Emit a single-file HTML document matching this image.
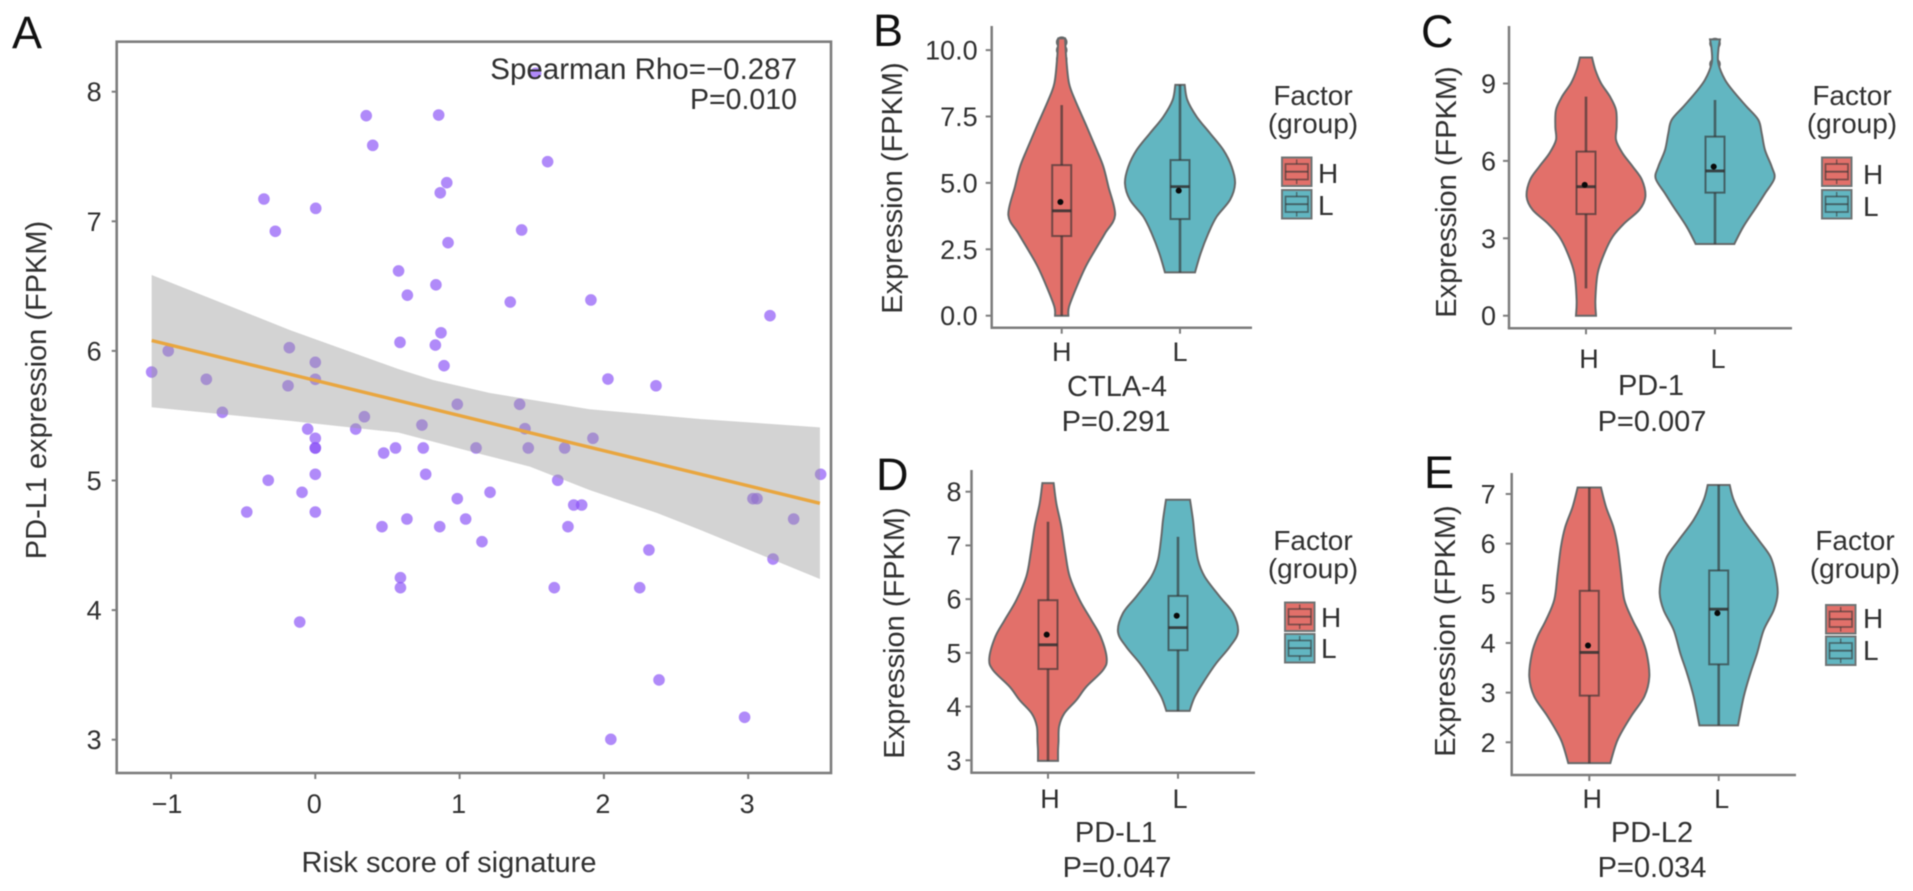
<!DOCTYPE html>
<html lang="en">
<head>
<meta charset="utf-8">
<title>Risk score signature and immune checkpoint expression</title>
<style>
html,body{margin:0;padding:0;background:#fff;width:1913px;height:891px;overflow:hidden}
svg{position:absolute;left:0;top:0;display:block;filter:blur(0.5px)}
text{font-family:"Liberation Sans",Arial,sans-serif;fill:#303030}
.letter{font-size:45px;fill:#111}
.tick{font-size:27px}
.title{font-size:29px}
.legend{font-size:28px}
</style>
</head>
<body>
<svg id="figure" xmlns="http://www.w3.org/2000/svg" width="1913" height="891" viewBox="0 0 1913 891">
  <rect width="1913" height="891" fill="#fff"/>
  <g id="panel-a"></g>
  <g id="panel-b"></g>
  <g id="panel-c"></g>
  <g id="panel-d"></g>
  <g id="panel-e"></g>

  <text class="letter" x="12" y="48">A</text>
  <text class="letter" x="873" y="46">B</text>
  <text class="letter" x="1421" y="47">C</text>
  <text class="letter" x="876" y="490">D</text>
  <text class="letter" x="1424" y="488">E</text>

  <text x="797" y="79" text-anchor="end" font-size="29.5">Spearman Rho=−0.287</text>
  <text x="797" y="109" text-anchor="end" font-size="28.5">P=0.010</text>
  <text class="title" transform="translate(46 390) rotate(-90)" text-anchor="middle">PD-L1 expression (FPKM)</text>
  <text class="title" x="449" y="872" text-anchor="middle">Risk score of signature</text>

  <text class="title" transform="translate(902 188) rotate(-90)" text-anchor="middle">Expression (FPKM)</text>
  <text class="title" x="1117" y="396" text-anchor="middle" font-size="29">CTLA-4</text>
  <text class="title" x="1116" y="431" text-anchor="middle" font-size="28">P=0.291</text>

  <text class="title" transform="translate(1456 192) rotate(-90)" text-anchor="middle">Expression (FPKM)</text>
  <text class="title" x="1651" y="395" text-anchor="middle" font-size="29">PD-1</text>
  <text class="title" x="1652" y="431" text-anchor="middle" font-size="28">P=0.007</text>

  <text class="title" transform="translate(904 633) rotate(-90)" text-anchor="middle">Expression (FPKM)</text>
  <text class="title" x="1116" y="842" text-anchor="middle" font-size="29">PD-L1</text>
  <text class="title" x="1117" y="877" text-anchor="middle" font-size="28">P=0.047</text>

  <text class="title" transform="translate(1455 631) rotate(-90)" text-anchor="middle">Expression (FPKM)</text>
  <text class="title" x="1652" y="842" text-anchor="middle" font-size="29">PD-L2</text>
  <text class="title" x="1652" y="877" text-anchor="middle" font-size="28">P=0.034</text>
</svg>

<script>
/* ---------- Panel A data ---------- */
var scatterX = [0.353,0.398,-0.356,0.003,-0.277,0.577,0.855,1.527,1.61,0.911,0.866,1.43,0.92,0.836,0.638,1.351,1.91,0.871,0.587,0.832,-1.019,-0.18,-1.134,-0.755,0,-0.189,0,-0.644,0.34,-0.053,0.28,0,0,0,0.474,0.556,0,-0.326,-0.092,-0.475,0,0.462,0.59,0.59,-0.108,0.892,2.028,2.361,0.984,1.416,0.739,1.453,1.924,0.748,1.114,1.476,1.728,0.765,1.68,1.211,0.984,1.791,1.846,0.635,1.042,0.862,1.751,1.155,2.312,1.656,2.248,3.502,3.033,3.061,3.315,3.172,3.151,2.382,2.975,2.048];
var scatterY = [7.815,7.586,7.172,7.1,6.923,6.617,7.82,8.142,7.46,7.298,7.22,6.933,6.835,6.51,6.43,6.377,6.393,6.14,6.066,6.045,6.0,6.025,5.837,5.781,5.912,5.731,5.781,5.526,5.492,5.397,5.397,5.326,5.251,5.251,5.212,5.251,5.048,5.002,4.909,4.757,4.757,4.644,4.25,4.173,3.908,5.886,5.783,5.731,5.588,5.588,5.428,5.4,5.326,5.251,5.251,5.251,5.251,5.048,5.002,4.909,4.86,4.811,4.811,4.703,4.703,4.644,4.644,4.528,4.464,4.173,4.173,5.048,4.86,4.86,4.703,4.394,6.272,3.461,3.173,3.003];
var fitX = [-1.134,3.497];
var fitY = [6.08,4.824];
var ribbonUpperX = [-1.134,-0.175,0.575,0.816,1.21,1.9,2.665,3.497];
var ribbonUpperY = [6.586,6.16,5.86,5.775,5.675,5.55,5.475,5.41];
var ribbonLowerX = [-1.134,-0.175,0.575,1.09,1.487,1.9,2.366,2.665,3.497];
var ribbonLowerY = [5.565,5.46,5.37,5.22,5.107,4.927,4.75,4.62,4.24];
var scatterXTicks = [-1,0,1,2,3];
var scatterXTickLabels = ["−1","0","1","2","3"];
var scatterYTicks = [3,4,5,6,7,8];
var scatterYTickLabels = ["3","4","5","6","7","8"];

/* ---------- Violin categories ---------- */
var categories = ["H","L"];

/* ---------- CTLA-4 ---------- */
var ctlaTicks = [0,2.5,5,7.5,10];
var ctlaTickLabels = ["0.0","2.5","5.0","7.5","10.0"];
var ctlaHValues = [10.44,9.63,8.75,8.12,7.12,6.24,5.61,4.86,3.79,3.1,2.47,1.85,1.09,0.34,0];
var ctlaHDensity = [0.056,0.078,0.122,0.222,0.417,0.583,0.694,0.778,0.889,0.722,0.556,0.4,0.25,0.122,0.111];
var ctlaHBox = [0,3,3.95,5.67,7.93];
var ctlaHMean = [4.28];
var ctlaHOutliers = [10.3,10.0,9.65];
var ctlaLValues = [8.69,8.12,7.49,6.87,6.24,5.61,4.98,4.36,3.73,3.1,2.35,1.63];
var ctlaLDensity = [0.078,0.122,0.278,0.5,0.722,0.861,0.917,0.833,0.611,0.472,0.344,0.25];
var ctlaLBox = [1.63,3.64,4.86,5.86,8.69];
var ctlaLMean = [4.71];
var ctlaLOutliers = [];

/* ---------- PD-1 ---------- */
var pd1Ticks = [0,3,6,9];
var pd1TickLabels = ["0","3","6","9"];
var pd1HValues = [10.01,9.52,9.01,8.49,7.97,7.33,6.81,6.29,5.78,5.26,4.61,4.1,3.58,3.06,2.42,1.64,0.61,0];
var pd1HDensity = [0.1,0.156,0.25,0.4,0.5,0.511,0.5,0.611,0.778,0.933,0.989,0.889,0.639,0.444,0.306,0.194,0.156,0.167];
var pd1HBox = [1.06,3.94,5.0,6.36,8.49];
var pd1HMean = [5.07];
var pd1HOutliers = [];
var pd1LValues = [10.71,10.3,9.78,9.14,8.62,8.1,7.59,7.07,6.42,5.78,5.32,4.74,4.23,3.45,2.78];
var pd1LDensity = [0.083,0.056,0.056,0.167,0.333,0.528,0.722,0.778,0.833,0.944,0.989,0.833,0.694,0.472,0.322];
var pd1LBox = [2.78,4.77,5.61,6.94,8.36];
var pd1LMean = [5.78];
var pd1LOutliers = [10.55,9.75];

/* ---------- PD-L1 ---------- */
var pdl1Ticks = [3,4,5,6,7,8];
var pdl1TickLabels = ["3","4","5","6","7","8"];
var pdl1HValues = [8.16,7.78,7.35,6.85,6.42,5.98,5.61,5.3,4.9,4.68,4.37,4.12,3.87,3.63,3.35,3.19,2.99];
var pdl1HDensity = [0.094,0.139,0.222,0.289,0.361,0.528,0.722,0.878,0.978,0.917,0.639,0.472,0.27,0.185,0.175,0.167,0.167];
var pdl1HBox = [2.99,4.7,5.15,5.98,7.44];
var pdl1HMean = [5.34];
var pdl1HOutliers = [3.35];
var pdl1LValues = [7.85,7.47,7.16,6.73,6.42,6.05,5.74,5.39,5.11,4.81,4.49,4.18,3.92];
var pdl1LDensity = [0.2,0.25,0.278,0.333,0.444,0.694,0.917,1,0.861,0.639,0.444,0.278,0.194];
var pdl1LBox = [3.92,5.05,5.47,6.06,7.16];
var pdl1LMean = [5.69];
var pdl1LOutliers = [];

/* ---------- PD-L2 ---------- */
var pdl2Ticks = [2,3,4,5,6,7];
var pdl2TickLabels = ["2","3","4","5","6","7"];
var pdl2HValues = [7.13,6.74,6.34,5.94,5.4,4.87,4.46,4.13,3.79,3.32,2.92,2.52,2.05,1.58];
var pdl2HDensity = [0.194,0.278,0.4,0.472,0.528,0.583,0.722,0.861,0.956,1,0.917,0.694,0.472,0.35];
var pdl2HBox = [1.58,2.94,3.81,5.05,7.13];
var pdl2HMean = [3.95];
var pdl2HOutliers = [];
var pdl2LValues = [7.18,6.88,6.48,6.07,5.74,5.4,5.0,4.66,4.26,3.79,3.39,2.92,2.34];
var pdl2LDensity = [0.183,0.25,0.417,0.667,0.861,0.944,0.983,0.917,0.75,0.639,0.528,0.417,0.322];
var pdl2LBox = [2.34,3.57,4.68,5.46,7.18];
var pdl2LMean = [4.6];
var pdl2LOutliers = [];

/* ---------- Helpers ---------- */
var SVG_NS = "http://www.w3.org/2000/svg";
var AXIS_COLOR = "#7d7d7d";
var H_FILL = "#e2706a";
var L_FILL = "#62b6c1";
var OUTLINE = "#66696a";
var MAX_HALF_WIDTH = 60;

function make(tag, attrs, parent) {
  var el = document.createElementNS(SVG_NS, tag);
  for (var k in attrs) { el.setAttribute(k, attrs[k]); }
  parent.appendChild(el);
  return el;
}
function named(el, name) {
  
  
  return el;
}
function addText(parent, name, str, x, y, cls, anchor) {
  var t = make("text", {x: x, y: y, "class": cls, "text-anchor": anchor}, parent);
  t.textContent = str;
  return named(t, name);
}

/* ---------- Panel A ---------- */
(function () {
  var g = document.getElementById("panel-a");
  function sx(v) { return 315.3 + 144.3 * v; }
  function sy(v) { return 91.7 + (8 - v) * 129.6; }
  var left = 116.7, right = 831, top = 41.7, bottom = 773;

  for (var i = 0; i < scatterX.length; i++) {
    named(make("circle", {cx: sx(scatterX[i]), cy: sy(scatterY[i]), r: 5.8, fill: "#8a52f6", "fill-opacity": 0.68}, g), "scatter-point");
  }

  var d = "";
  for (var u = 0; u < ribbonUpperX.length; u++) {
    d += (u ? "L" : "M") + sx(ribbonUpperX[u]) + " " + sy(ribbonUpperY[u]);
  }
  for (var l = ribbonLowerX.length - 1; l >= 0; l--) {
    d += "L" + sx(ribbonLowerX[l]) + " " + sy(ribbonLowerY[l]);
  }
  named(make("path", {d: d + "Z", fill: "#9a9a9a", "fill-opacity": 0.43}, g), "confidence-band");

  named(make("line", {x1: sx(fitX[0]), y1: sy(fitY[0]), x2: sx(fitX[1]), y2: sy(fitY[1]), stroke: "#e9a63f", "stroke-width": 3.4}, g), "regression-line");

  named(make("rect", {x: left, y: top, width: right - left, height: bottom - top, fill: "none", stroke: AXIS_COLOR, "stroke-width": 2.6}, g), "plot-frame");

  scatterYTicks.forEach(function (v, i) {
    named(make("line", {x1: left - 5, x2: left, y1: sy(v), y2: sy(v), stroke: AXIS_COLOR, "stroke-width": 2}, g), "y-tick");
    addText(g, "y-tick-label", scatterYTickLabels[i], left - 15, sy(v) + 9.5, "tick", "end");
  });
  scatterXTicks.forEach(function (v, i) {
    named(make("line", {x1: sx(v), x2: sx(v), y1: bottom, y2: bottom + 6, stroke: AXIS_COLOR, "stroke-width": 2}, g), "x-tick");
    addText(g, "x-tick-label", scatterXTickLabels[i], sx(v) - (v < 0 ? 4 : 1), 813, "tick", "middle");
  });
})();

/* ---------- Violin panels ---------- */
function smoothSide(pts) {
  var d = "";
  for (var i = 0; i < pts.length - 1; i++) {
    var p0 = pts[Math.max(i - 1, 0)], p1 = pts[i], p2 = pts[i + 1], p3 = pts[Math.min(i + 2, pts.length - 1)];
    d += "C" + (p1[0] + (p2[0] - p0[0]) / 6) + " " + (p1[1] + (p2[1] - p0[1]) / 6) + " " +
         (p2[0] - (p3[0] - p1[0]) / 6) + " " + (p2[1] - (p3[1] - p1[1]) / 6) + " " + p2[0] + " " + p2[1];
  }
  return d;
}

function drawViolin(g, label, cx, sy, values, density, box, mean, outliers, fill) {
  outliers.forEach(function (v) {
    named(make("circle", {cx: cx, cy: sy(v), r: 5, fill: fill, stroke: OUTLINE, "stroke-width": 1.6}, g), "outlier-" + label);
  });

  var right = values.map(function (v, i) { return [cx + density[i] * MAX_HALF_WIDTH, sy(v)]; });
  var left = values.map(function (v, i) { return [cx - density[i] * MAX_HALF_WIDTH, sy(v)]; }).reverse();
  var d = "M" + left[left.length - 1][0] + " " + left[left.length - 1][1] +
          "L" + right[0][0] + " " + right[0][1] + smoothSide(right) +
          "L" + left[0][0] + " " + left[0][1] + smoothSide(left) + "Z";
  named(make("path", {d: d, fill: fill, stroke: OUTLINE, "stroke-width": 2}, g), "violin-" + label);

  var ink = "#2f2f2f";
  var hw = 9.5;
  named(make("line", {x1: cx, x2: cx, y1: sy(box[4]), y2: sy(box[3]), stroke: ink, "stroke-opacity": 0.62, "stroke-width": 2.6}, g), "whisker-upper-" + label);
  named(make("line", {x1: cx, x2: cx, y1: sy(box[1]), y2: sy(box[0]), stroke: ink, "stroke-opacity": 0.62, "stroke-width": 2.6}, g), "whisker-lower-" + label);
  named(make("rect", {x: cx - hw, y: sy(box[3]), width: hw * 2, height: sy(box[1]) - sy(box[3]), fill: "none", stroke: ink, "stroke-opacity": 0.62, "stroke-width": 2}, g), "box-" + label);
  named(make("line", {x1: cx - hw, x2: cx + hw, y1: sy(box[2]), y2: sy(box[2]), stroke: ink, "stroke-opacity": 0.85, "stroke-width": 2.8}, g), "median-" + label);
  named(make("circle", {cx: cx - 1.3, cy: sy(mean[0]), r: 3, fill: "#0a0a0a"}, g), "mean-dot-" + label);
}

function drawLegend(g, lg) {
  addText(g, "legend-title-factor", "Factor", lg.titleX, lg.titleY, "legend", "middle");
  addText(g, "legend-title-group", "(group)", lg.titleX, lg.titleY + 28, "legend", "middle");
  [[categories[0], H_FILL, lg.keyY1, lg.labelY1], [categories[1], L_FILL, lg.keyY2, lg.labelY2]].forEach(function (e) {
    var k = named(make("g", {}, g), "legend-key-" + e[0]);
    var x = lg.keyX, y = e[2];
    named(make("rect", {x: x, y: y, width: 29.5, height: 28.5, fill: e[1], stroke: "#6f7475", "stroke-width": 2}, k), "legend-swatch");
    named(make("rect", {x: x + 3.5, y: y + 6.5, width: 22.5, height: 15.5, fill: "none", stroke: "#333", "stroke-opacity": 0.6, "stroke-width": 1.7}, k), "legend-box");
    named(make("line", {x1: x + 3.5, x2: x + 26, y1: y + 14.2, y2: y + 14.2, stroke: "#333", "stroke-opacity": 0.65, "stroke-width": 1.8}, k), "legend-median");
    named(make("line", {x1: x + 14.7, x2: x + 14.7, y1: y + 2, y2: y + 6.5, stroke: "#333", "stroke-opacity": 0.55, "stroke-width": 1.5}, k), "legend-whisker");
    named(make("line", {x1: x + 14.7, x2: x + 14.7, y1: y + 22, y2: y + 26.5, stroke: "#333", "stroke-opacity": 0.55, "stroke-width": 1.5}, k), "legend-whisker");
    addText(g, "legend-label-" + e[0], e[0], lg.labelX, e[3], "legend", "start");
  });
}

function drawViolinPanel(cfg) {
  var g = document.getElementById(cfg.id);
  function sy(v) { return cfg.yRef - (v - cfg.vRef) * cfg.yPitch; }

  named(make("line", {x1: cfg.left, x2: cfg.left, y1: cfg.top, y2: cfg.bottom, stroke: AXIS_COLOR, "stroke-width": 2.5}, g), "y-axis-line");
  named(make("line", {x1: cfg.left - 1.2, x2: cfg.right, y1: cfg.bottom, y2: cfg.bottom, stroke: AXIS_COLOR, "stroke-width": 2.5}, g), "x-axis-line");

  cfg.ticks.forEach(function (v, i) {
    named(make("line", {x1: cfg.left - 6, x2: cfg.left, y1: sy(v), y2: sy(v), stroke: AXIS_COLOR, "stroke-width": 2}, g), "y-tick");
    addText(g, "y-tick-label", cfg.tickLabels[i], cfg.left - cfg.labelGap, sy(v) + 9.5, "tick", "end");
  });

  drawViolin(g, "h", cfg.xH, sy, cfg.h[0], cfg.h[1], cfg.h[2], cfg.h[3], cfg.h[4], H_FILL);
  drawViolin(g, "l", cfg.xL, sy, cfg.l[0], cfg.l[1], cfg.l[2], cfg.l[3], cfg.l[4], L_FILL);

  [cfg.xH, cfg.xL].forEach(function (x, i) {
    named(make("line", {x1: x, x2: x, y1: cfg.bottom, y2: cfg.bottom + 6, stroke: AXIS_COLOR, "stroke-width": 2}, g), "x-tick");
    addText(g, "x-tick-label-" + categories[i], categories[i], x + cfg.catShift, cfg.catY, "tick", "middle");
  });

  drawLegend(g, cfg.legend);
}

drawViolinPanel({
  id: "panel-b", left: 991.7, right: 1252, top: 26, bottom: 327.7,
  yRef: 315.7, vRef: 0, yPitch: 26.56, xH: 1061.7, xL: 1180, labelGap: 14, catShift: 0, catY: 361,
  ticks: ctlaTicks, tickLabels: ctlaTickLabels,
  h: [ctlaHValues, ctlaHDensity, ctlaHBox, ctlaHMean, ctlaHOutliers],
  l: [ctlaLValues, ctlaLDensity, ctlaLBox, ctlaLMean, ctlaLOutliers],
  legend: {titleX: 1313, titleY: 105, keyX: 1282, keyY1: 157.5, keyY2: 190, labelX: 1318, labelY1: 183, labelY2: 215}
});
drawViolinPanel({
  id: "panel-c", left: 1509, right: 1792, top: 26, bottom: 328.3,
  yRef: 315.7, vRef: 0, yPitch: 25.8, xH: 1586, xL: 1715, labelGap: 13, catShift: 3, catY: 368,
  ticks: pd1Ticks, tickLabels: pd1TickLabels,
  h: [pd1HValues, pd1HDensity, pd1HBox, pd1HMean, pd1HOutliers],
  l: [pd1LValues, pd1LDensity, pd1LBox, pd1LMean, pd1LOutliers],
  legend: {titleX: 1852, titleY: 105, keyX: 1822, keyY1: 157.5, keyY2: 190, labelX: 1863, labelY1: 184, labelY2: 216}
});
drawViolinPanel({
  id: "panel-d", left: 971.5, right: 1255, top: 470, bottom: 772.7,
  yRef: 760.3, vRef: 3, yPitch: 53.72, xH: 1048, xL: 1178, labelGap: 10, catShift: 2, catY: 808,
  ticks: pdl1Ticks, tickLabels: pdl1TickLabels,
  h: [pdl1HValues, pdl1HDensity, pdl1HBox, pdl1HMean, pdl1HOutliers],
  l: [pdl1LValues, pdl1LDensity, pdl1LBox, pdl1LMean, pdl1LOutliers],
  legend: {titleX: 1313, titleY: 550, keyX: 1285, keyY1: 602.5, keyY2: 634, labelX: 1321, labelY1: 627, labelY2: 658}
});
drawViolinPanel({
  id: "panel-e", left: 1511.7, right: 1796, top: 473, bottom: 775,
  yRef: 742.3, vRef: 2, yPitch: 49.66, xH: 1589.3, xL: 1718.7, labelGap: 16, catShift: 3, catY: 808,
  ticks: pdl2Ticks, tickLabels: pdl2TickLabels,
  h: [pdl2HValues, pdl2HDensity, pdl2HBox, pdl2HMean, pdl2HOutliers],
  l: [pdl2LValues, pdl2LDensity, pdl2LBox, pdl2LMean, pdl2LOutliers],
  legend: {titleX: 1855, titleY: 550, keyX: 1826, keyY1: 605, keyY2: 636.5, labelX: 1863, labelY1: 628, labelY2: 660}
});
</script>
</body>
</html>
